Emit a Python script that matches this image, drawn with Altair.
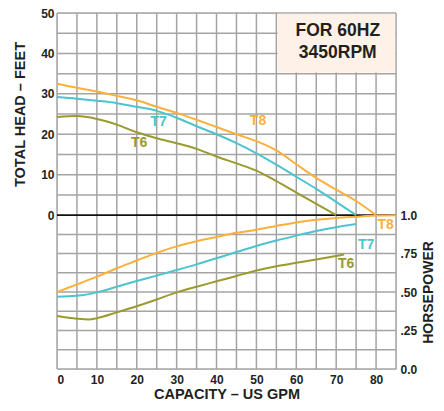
import altair as alt
import pandas as pd

# ---------------- data ----------------
# Head curves (feet) vs capacity (US GPM)
T8_HEAD_GPM = [0, 5, 10, 15, 20, 25, 30, 35, 40, 45, 50, 55, 60, 65, 70, 75, 80]
T8_HEAD = [32.5, 31.5, 30.6, 29.5, 28.4, 26.8, 25.3, 23.6, 21.8, 20.0, 18.3, 16.0, 12.6, 9.2, 6.3, 3.5, 0.0]
T7_HEAD_GPM = [0, 5, 10, 15, 20, 25, 30, 35, 40, 45, 50, 55, 60, 65, 70, 75]
T7_HEAD = [29.2, 28.8, 28.3, 27.7, 26.8, 25.8, 24.1, 22.0, 20.0, 17.8, 15.3, 12.5, 9.5, 6.5, 3.3, 0.0]
T6_HEAD_GPM = [0, 5, 10, 15, 20, 25, 30, 35, 40, 45, 50, 55, 60, 65, 70]
T6_HEAD = [24.3, 24.5, 23.8, 22.4, 20.5, 19.0, 17.8, 16.4, 14.5, 12.8, 11.0, 8.4, 5.6, 2.8, 0.0]

# Horsepower curves vs capacity (US GPM)
T8_HP_GPM = [0, 5, 10, 15, 20, 25, 30, 35, 40, 45, 50, 55, 60, 65, 70, 75, 80, 85]
T8_HP = [0.50, 0.55, 0.60, 0.655, 0.705, 0.755, 0.797, 0.83, 0.858, 0.885, 0.905, 0.93, 0.953, 0.97, 0.982, 0.99, 0.997, 1.0]
T7_HP_GPM = [0, 5, 10, 15, 20, 25, 30, 35, 40, 45, 50, 55, 60, 65, 70, 75]
T7_HP = [0.47, 0.476, 0.498, 0.535, 0.572, 0.607, 0.643, 0.68, 0.72, 0.76, 0.80, 0.835, 0.867, 0.897, 0.922, 0.942]
T6_HP_GPM = [0, 5, 8, 10, 15, 20, 25, 30, 35, 40, 45, 50, 55, 60, 65, 70, 72]
T6_HP = [0.344, 0.327, 0.322, 0.33, 0.368, 0.408, 0.452, 0.498, 0.535, 0.57, 0.605, 0.64, 0.668, 0.69, 0.712, 0.735, 0.745]

SERIES = ["T8", "T7", "T6"]
COLORS = ["#fbb03b", "#4cc4d0", "#9a9a2e"]

# curve labels
HEAD_LABEL_GPM = [50.4, 25.5, 20.6]
HEAD_LABEL_FT = [23.4, 23.0, 17.8]
HP_LABEL_GPM = [82.4, 77.5, 72.5]
HP_LABEL_HP = [0.936, 0.808, 0.68]

HEAD_TICKS = [0, 10, 20, 30, 40, 50]
HP_TICKS = [0.0, 0.25, 0.5, 0.75, 1.0]
HP_TICK_LABELS = ["0.0", ".25", ".50", ".75", "1.0"]
GPM_TICKS = [0, 10, 20, 30, 40, 50, 60, 70, 80]
GPM_GRID = list(range(0, 86, 5))
HEAD_GRID = list(range(5, 51, 5))
HP_GRID = [i / 8 for i in range(0, 8)]

NOTE_LINES = ["FOR 60HZ", "3450RPM"]
NOTE_GPM = 70.4
NOTE_FT = [45.6, 40.2]

# ---------------- shared vertical scale ----------------
HP_SPAN = 38.05          # vertical units used by 1.0 HP below the zero line
Y_MIN, Y_MAX = -HP_SPAN, 50
X_MIN, X_MAX = 0, 85


def hp_to_u(v):
    return (v - 1.0) * HP_SPAN


rows = []
for name, gx, gy in [("T8", T8_HEAD_GPM, T8_HEAD), ("T7", T7_HEAD_GPM, T7_HEAD), ("T6", T6_HEAD_GPM, T6_HEAD)]:
    for i, (a, b) in enumerate(zip(gx, gy)):
        rows.append({"gpm": a, "u": b, "series": name, "curve": name + "_head", "order": i})
for name, gx, gy in [("T8", T8_HP_GPM, T8_HP), ("T7", T7_HP_GPM, T7_HP), ("T6", T6_HP_GPM, T6_HP)]:
    for i, (a, b) in enumerate(zip(gx, gy)):
        rows.append({"gpm": a, "u": hp_to_u(b), "series": name, "curve": name + "_hp", "order": i})
curves = pd.DataFrame(rows)

labels = pd.DataFrame(
    [{"gpm": g, "u": f, "series": s} for s, g, f in zip(SERIES, HEAD_LABEL_GPM, HEAD_LABEL_FT)]
    + [{"gpm": g, "u": hp_to_u(h), "series": s} for s, g, h in zip(SERIES, HP_LABEL_GPM, HP_LABEL_HP)]
)

hgrid = pd.DataFrame({"u": HEAD_GRID + [hp_to_u(v) for v in HP_GRID]})
vgrid = pd.DataFrame({"gpm": GPM_GRID})
box = pd.DataFrame({"x": [55.3], "x2": [X_MAX - 0.2], "y": [35.3], "y2": [Y_MAX - 0.2]})
note = pd.DataFrame({"gpm": [NOTE_GPM, NOTE_GPM], "u": NOTE_FT, "t": NOTE_LINES})
hp_axis_df = pd.DataFrame({"u": [hp_to_u(v) for v in HP_TICKS]})

FONT = "Liberation Sans"
INK = "#231f20"

xscale = alt.Scale(domain=[X_MIN, X_MAX], nice=False, zero=False)
yscale = alt.Scale(domain=[Y_MIN, Y_MAX], nice=False, zero=False)
xaxis = alt.Axis(
    values=GPM_TICKS, title="CAPACITY – US GPM", grid=False, ticks=False, domain=False,
    labelFont=FONT, labelFontSize=12, labelFontWeight="bold", labelColor=INK, labelPadding=5,
    titleFont=FONT, titleFontSize=14.5, titleFontWeight="bold", titleColor=INK,
    titleY=25, titleBaseline="middle",
)
color = alt.Color("series:N", scale=alt.Scale(domain=SERIES, range=COLORS), legend=None)


def X(field):
    return alt.X(field, type="quantitative", scale=xscale, axis=xaxis)


def Y(field, axis=None):
    return alt.Y(field, type="quantitative", scale=yscale, axis=axis)


left_axis = alt.Axis(
    values=HEAD_TICKS, title="TOTAL HEAD – FEET", grid=False, ticks=False, domain=False, orient="left",
    labelFont=FONT, labelFontSize=12, labelFontWeight="bold", labelColor=INK, labelPadding=3,
    titleFont=FONT, titleFontSize=14.5, titleFontWeight="bold", titleColor=INK,
    titleX=-37, titleY=101, titleAngle=270, titleAlign="center", titleBaseline="middle",
)
label_map = "[" + ",".join("'%s'" % s for s in HP_TICK_LABELS) + "]"
right_axis = alt.Axis(
    values=[hp_to_u(v) for v in HP_TICKS], title="HORSEPOWER", grid=False, ticks=False, domain=False,
    orient="right",
    labelExpr=label_map + "[round((1 + datum.value / %s) * 4)]" % HP_SPAN,
    labelFont=FONT, labelFontSize=12, labelFontWeight="bold", labelColor=INK, labelPadding=4,
    titleFont=FONT, titleFontSize=14, titleFontWeight="bold", titleColor=INK,
    titleX=32, titleY=279, titleAngle=270, titleAlign="center", titleBaseline="middle",
)

grid_h = alt.Chart(hgrid).mark_rule(color="#a6a4a2", strokeWidth=1.5).encode(y=Y("u"))
grid_v = alt.Chart(vgrid).mark_rule(color="#a6a4a2", strokeWidth=1.5).encode(x=X("gpm"))
box_layer = alt.Chart(box).mark_rect(fill="#fdf1e8").encode(
    x=X("x"), x2="x2", y=Y("y"), y2="y2"
)
zero = alt.Chart(pd.DataFrame({"u": [0]})).mark_rule(color="#111111", strokeWidth=1.6).encode(
    y=Y("u")
)
lines = alt.Chart(curves).mark_line(strokeWidth=2, interpolate="monotone").encode(
    x=X("gpm"), y=Y("u", left_axis), color=color, detail="curve:N", order="order:Q"
)
text = alt.Chart(labels).mark_text(font=FONT, fontSize=14, fontWeight="bold").encode(
    x=X("gpm"), y=Y("u"), color=color, text="series:N"
)
note_text = alt.Chart(note).mark_text(font=FONT, fontSize=17.5, fontWeight="bold", color=INK).encode(
    x=X("gpm"), y=Y("u"), text="t:N"
)
right = alt.Chart(hp_axis_df).mark_point(opacity=0).encode(x=X("u"), y=Y("u", right_axis))

chart = (
    alt.layer(grid_h, grid_v, box_layer, zero, lines, text, note_text, right)
    .resolve_scale(y="independent")
    .properties(
        width=339, height=356,
        autosize=alt.AutoSizeParams(type="none"),
        padding={"left": 49, "top": 5, "right": 40, "bottom": 34},
    )
    .configure_view(fill="#fdf1e8", stroke="#333333", strokeWidth=2)
    .configure(background="white")
)

chart.save("out.html", embed_options={"renderer": "svg", "actions": False})
